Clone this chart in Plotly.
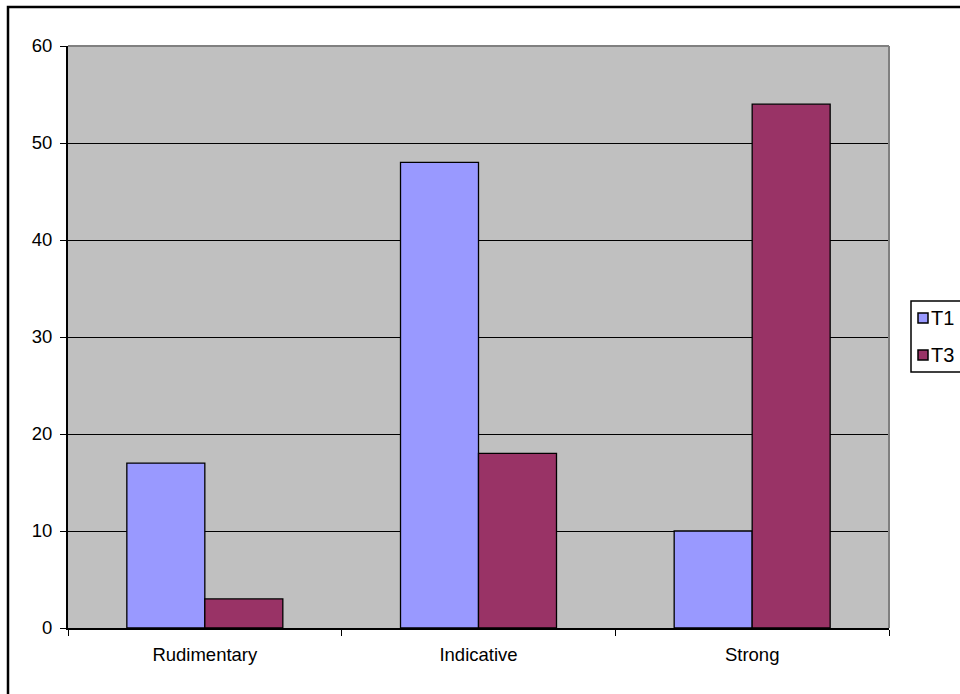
import plotly.graph_objects as go

categories = ["Rudimentary", "Indicative", "Strong"]
t1_values = [17, 48, 10]
t3_values = [3, 18, 54]
y_ticks = [0, 10, 20, 30, 40, 50, 60]
series_names = ["T1", "T3"]
series_colors = ["#9999FF", "#993366"]

W, H = 960, 694
L, R, T, B = 68, 889, 46, 628  # plot area in pixels


def px_x(px):
    return (px - L) / (R - L)


def px_y(py):
    return (B - py) / (B - T)


fig = go.Figure()
for name, vals, color in zip(series_names, [t1_values, t3_values], series_colors):
    fig.add_trace(go.Bar(
        x=categories, y=vals, name=name, showlegend=False,
        marker=dict(color=color, line=dict(color="black", width=1.3)),
    ))

shapes = [
    # plot-area frame on top and right
    dict(type="line", xref="paper", yref="paper", x0=0, x1=1, y0=1, y1=1,
         line=dict(color="#808080", width=2), layer="above"),
    dict(type="line", xref="paper", yref="paper", x0=1, x1=1, y0=0, y1=1,
         line=dict(color="#808080", width=2), layer="above"),
    # chart border
    dict(type="rect", xref="paper", yref="paper",
         x0=px_x(8), x1=px_x(1000), y0=px_y(740), y1=px_y(7),
         line=dict(color="black", width=2.5), layer="below"),
    # legend box
    dict(type="rect", xref="paper", yref="paper",
         x0=px_x(911), x1=px_x(1000), y0=px_y(372), y1=px_y(301),
         line=dict(color="black", width=1.5), fillcolor="white", layer="above"),
]
annotations = []
for i, (name, color) in enumerate(zip(series_names, series_colors)):
    cy = 318 + i * 37
    shapes.append(dict(
        type="rect", xref="paper", yref="paper",
        x0=px_x(918), x1=px_x(928), y0=px_y(cy + 5), y1=px_y(cy - 5),
        line=dict(color="black", width=1.5), fillcolor=color, layer="above",
    ))
    annotations.append(dict(
        xref="paper", yref="paper", x=px_x(929), y=px_y(cy),
        xanchor="left", yanchor="middle", text=name, showarrow=False,
        font=dict(size=20, color="black"),
    ))

fig.update_layout(
    width=W, height=H,
    margin=dict(l=L, r=W - R, t=T, b=H - B, pad=0, autoexpand=False),
    paper_bgcolor="white",
    plot_bgcolor="#C0C0C0",
    barmode="group",
    bargap=0.43,
    bargroupgap=0,
    font=dict(family="Arial, Liberation Sans, sans-serif", size=18.5, color="black"),
    showlegend=False,
    xaxis=dict(
        showline=True, linecolor="black", linewidth=2,
        ticks="outside", tickson="boundaries", ticklen=6, tickcolor="black", tickwidth=1,
        ticklabelstandoff=9,
        showgrid=False, zeroline=False, fixedrange=True,
    ),
    yaxis=dict(
        range=[0, 60], tickvals=y_ticks,
        showline=True, linecolor="black", linewidth=2,
        ticks="outside", ticklen=6, tickcolor="black", tickwidth=1,
        ticklabelstandoff=4,
        showgrid=True, gridcolor="black", gridwidth=1.3,
        zeroline=False, fixedrange=True,
    ),
    shapes=shapes,
    annotations=annotations,
)

fig.write_html("out.html")
